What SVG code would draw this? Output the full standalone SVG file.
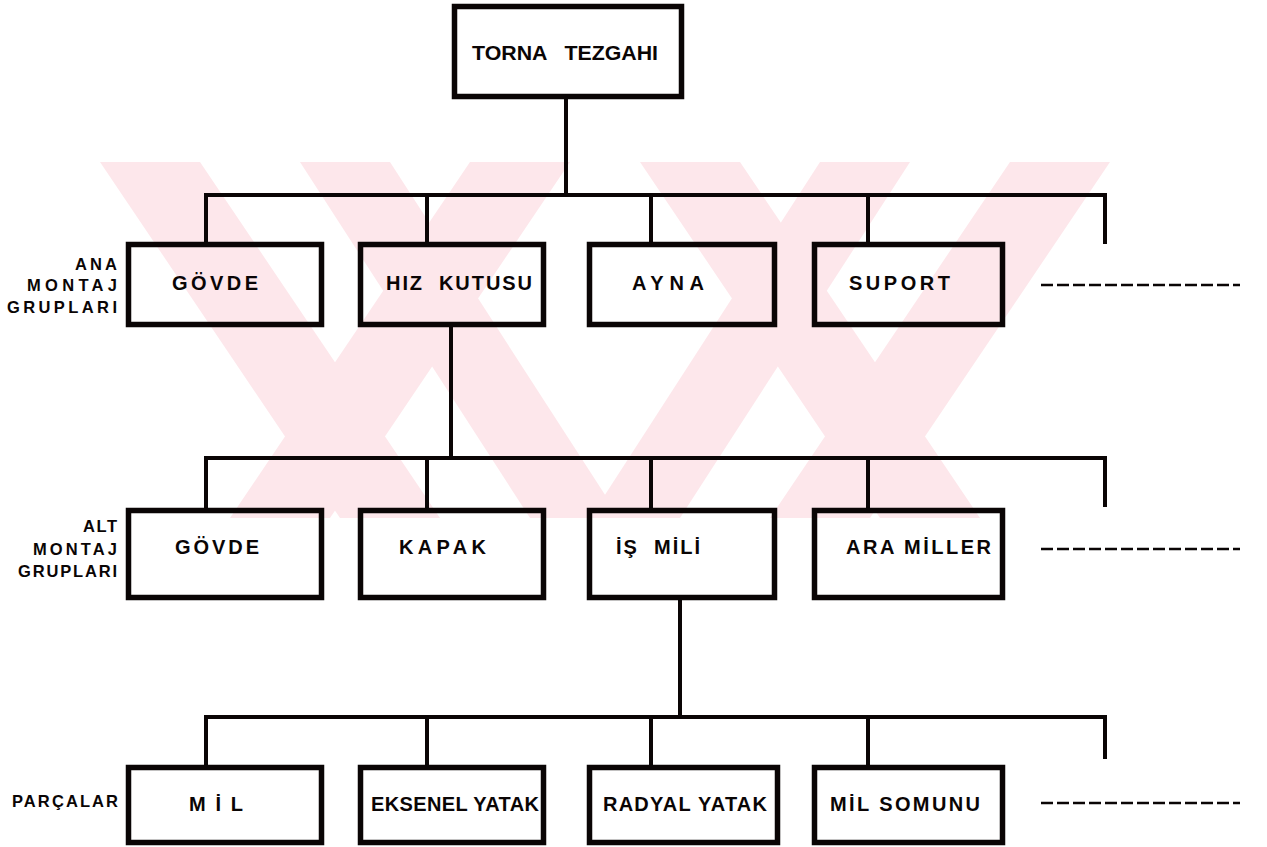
<svg xmlns="http://www.w3.org/2000/svg" width="1267" height="847" viewBox="0 0 1267 847" xml:space="preserve">
<style>
.box{fill:none;stroke:#0a0505;stroke-width:5.5;stroke-linejoin:miter}
.ln{fill:none;stroke:#0a0505;stroke-width:4;stroke-linecap:square}
.dash{fill:none;stroke:#0a0505;stroke-width:2.5;stroke-dasharray:12 4}
.t{font-family:"Liberation Sans",Arial,sans-serif;font-weight:bold;font-size:20px;fill:#0a0505;white-space:pre}
.lb{font-family:"Liberation Sans",Arial,sans-serif;font-weight:bold;font-size:16.5px;fill:#0a0505;text-anchor:end}
.wm{fill:#fde7eb}
</style>
<defs>
<clipPath id="wmclip"><rect x="100" y="162" width="1010" height="356"/></clipPath>
</defs>
<rect width="1267" height="847" fill="#ffffff"/>
<g id="watermark" clip-path="url(#wmclip)">
<polygon class="wm" points="100,162 200,162 440,518 340,518"/>
<polygon class="wm" points="470,162 570,162 330,518 230,518"/>
<polygon class="wm" points="300,162 390,162 620,518 530,518"/>
<polygon class="wm" points="640,162 740,162 980,518 880,518"/>
<polygon class="wm" points="1010,162 1110,162 870,518 770,518"/>
<polygon class="wm" points="820,162 910,162 680,518 590,518"/>
</g>
<g id="connectors">
<line class="ln" x1="566" y1="99" x2="566" y2="195"/>
<polyline class="ln" points="206,242 206,195 1105,195 1105,242"/>
<line class="ln" x1="427" y1="195" x2="427" y2="242"/>
<line class="ln" x1="651" y1="195" x2="651" y2="242"/>
<line class="ln" x1="868" y1="195" x2="868" y2="242"/>
<line class="ln" x1="451" y1="326" x2="451" y2="458"/>
<polyline class="ln" points="206,508 206,458 1105,458 1105,505"/>
<line class="ln" x1="427" y1="458" x2="427" y2="508"/>
<line class="ln" x1="651" y1="458" x2="651" y2="508"/>
<line class="ln" x1="868" y1="458" x2="868" y2="508"/>
<line class="ln" x1="680" y1="600" x2="680" y2="717"/>
<polyline class="ln" points="206,765 206,717 1105,717 1105,757"/>
<line class="ln" x1="427" y1="717" x2="427" y2="765"/>
<line class="ln" x1="651" y1="717" x2="651" y2="765"/>
<line class="ln" x1="868" y1="717" x2="868" y2="765"/>
<line class="dash" x1="1041" y1="285" x2="1240" y2="285"/>
<line class="dash" x1="1041" y1="549" x2="1240" y2="549"/>
<line class="dash" x1="1041" y1="803" x2="1240" y2="803"/>
</g>
<g id="labels">
<text class="lb" x="117" y="270" textLength="42" lengthAdjust="spacing">ANA</text>
<text class="lb" x="117" y="291" textLength="90" lengthAdjust="spacing">MONTAJ</text>
<text class="lb" x="117" y="313" textLength="110" lengthAdjust="spacing">GRUPLARI</text>
<text class="lb" x="117" y="532" textLength="34" lengthAdjust="spacing">ALT</text>
<text class="lb" x="117" y="555" textLength="84" lengthAdjust="spacing">MONTAJ</text>
<text class="lb" x="117" y="577" textLength="99" lengthAdjust="spacing">GRUPLARI</text>
<text class="lb" x="118" y="807" textLength="106" lengthAdjust="spacing">PARÇALAR</text>
</g>
<g id="n-torna">
<rect class="box" x="454.5" y="6.5" width="227" height="90"/>
<text class="t" x="472" y="60" font-size="23" textLength="186" lengthAdjust="spacingAndGlyphs">TORNA   TEZGAHI</text>
</g>
<g id="n-govde1">
<rect class="box" x="128.5" y="244.5" width="193" height="80"/>
<text class="t" x="172" y="290" textLength="86" lengthAdjust="spacing">GÖVDE</text>
</g>
<g id="n-hiz">
<rect class="box" x="360.5" y="244.5" width="183" height="80"/>
<text class="t" x="386" y="290" textLength="146" lengthAdjust="spacing">HIZ  KUTUSU</text>
</g>
<g id="n-ayna">
<rect class="box" x="589.5" y="244.5" width="185" height="80"/>
<text class="t" x="632" y="290" textLength="72" lengthAdjust="spacing">AYNA</text>
</g>
<g id="n-suport">
<rect class="box" x="814.5" y="244.5" width="188" height="80"/>
<text class="t" x="849" y="290" textLength="101" lengthAdjust="spacing">SUPORT</text>
</g>
<g id="n-govde2">
<rect class="box" x="128.5" y="510.5" width="193" height="87"/>
<text class="t" x="175" y="554" textLength="84" lengthAdjust="spacing">GÖVDE</text>
</g>
<g id="n-kapak">
<rect class="box" x="360.5" y="510.5" width="183" height="87"/>
<text class="t" x="399" y="554" textLength="87" lengthAdjust="spacing">KAPAK</text>
</g>
<g id="n-ismili">
<rect class="box" x="589.5" y="510.5" width="185" height="87"/>
<text class="t" x="616" y="554" textLength="84" lengthAdjust="spacing">İŞ  MİLİ</text>
</g>
<g id="n-aramiller">
<rect class="box" x="814.5" y="510.5" width="188" height="87"/>
<text class="t" x="846" y="554" textLength="145" lengthAdjust="spacing">ARA MİLLER</text>
</g>
<g id="n-mil">
<rect class="box" x="128.5" y="767.5" width="193" height="75"/>
<text class="t" x="189" y="811" textLength="54" lengthAdjust="spacing">M İ L</text>
</g>
<g id="n-eksenel">
<rect class="box" x="360.5" y="767.5" width="183" height="75"/>
<text class="t" x="371" y="811" textLength="168" lengthAdjust="spacing">EKSENEL YATAK</text>
</g>
<g id="n-radyal">
<rect class="box" x="589.5" y="767.5" width="188" height="75"/>
<text class="t" x="603" y="811" textLength="164" lengthAdjust="spacing">RADYAL YATAK</text>
</g>
<g id="n-milsomunu">
<rect class="box" x="814.5" y="767.5" width="188" height="75"/>
<text class="t" x="830" y="811" textLength="150" lengthAdjust="spacing">MİL SOMUNU</text>
</g>
</svg>
